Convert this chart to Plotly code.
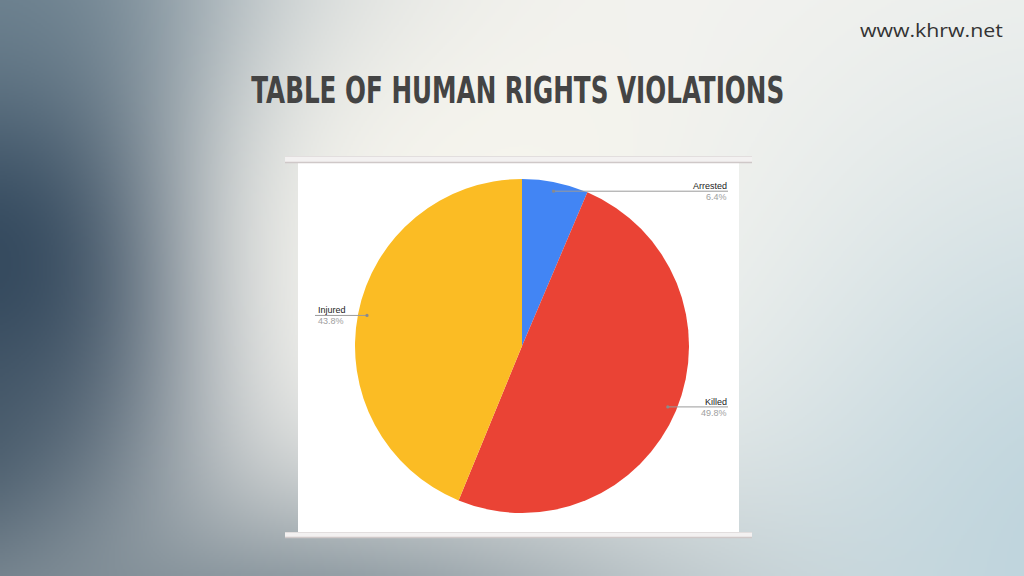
import base64, struct, zlib
import numpy as np
import plotly.graph_objects as go

# ---------------- data ----------------
categories = ["Arrested", "Killed", "Injured"]
values = [6.4, 49.8, 43.8]
pct_labels = ["6.4%", "49.8%", "43.8%"]
colors = ["#4285F4", "#EA4335", "#FBBC24"]
title_text = "TABLE OF HUMAN RIGHTS VIOLATIONS"
site_text = "www.khrw.net"

W, H = 1024, 576

def px(x):
    return x / W

def py(y):
    return 1 - y / H

# ---------------- background gradient image ----------------
def make_bg(w=512, h=288):
    xs = np.linspace(0, W, w)[None, :]
    ys = np.linspace(0, H, h)[:, None]
    img = np.ones((h, w, 3)) * np.array([0xf5, 0xf4, 0xf0], float)
    # colour, cx, cy, sx, sy, strength, x-exponent
    blobs = [
        ("#2b4056", -40, 240, 190, 220, 1.0, 3),
        ("#34495c", -60, 470, 130, 130, 0.8, 2),
        ("#5f7888", -20, -30, 230, 150, 0.7, 2),
        ("#76858f", 260, 660, 360, 120, 1.0, 2),
        ("#bcd3dc", 1100, 560, 260, 300, 0.95, 2),
        ("#f9f7ee", 460, 170, 170, 140, 0.6, 2),
    ]
    for col, cx, cy, sx, sy, s, p in blobs:
        c = np.array([int(col[i:i + 2], 16) for i in (1, 3, 5)], float)
        a = s * np.exp(-((np.abs(xs - cx) / sx) ** p + ((ys - cy) / sy) ** 2) / 2)
        a = a[..., None]
        img = img * (1 - a) + c * a
    arr = np.clip(img, 0, 255).astype(np.uint8)
    raw = b"".join(b"\x00" + arr[r].tobytes() for r in range(h))

    def chunk(t, d):
        return struct.pack(">I", len(d)) + t + d + struct.pack(">I", zlib.crc32(t + d) & 0xffffffff)

    png = (b"\x89PNG\r\n\x1a\n"
           + chunk(b"IHDR", struct.pack(">IIBBBBB", w, h, 8, 2, 0, 0, 0))
           + chunk(b"IDAT", zlib.compress(raw, 9))
           + chunk(b"IEND", b""))
    return "data:image/png;base64," + base64.b64encode(png).decode()

# ---------------- pie geometry (pixels) ----------------
CX, CY, R = 522, 346, 167

fig = go.Figure()
fig.add_trace(go.Pie(
    labels=categories, values=values, sort=False, direction="clockwise",
    rotation=0, marker=dict(colors=colors, line=dict(width=0)),
    textinfo="none", hoverinfo="label+percent", showlegend=False,
    domain=dict(x=[px(CX - R), px(CX + R)], y=[py(CY + R), py(CY - R)]),
))

shapes = []
annotations = []

# panel
shapes.append(dict(type="rect", xref="paper", yref="paper", layer="below",
                   x0=px(298), x1=px(739), y0=py(532), y1=py(161),
                   fillcolor="white", line=dict(width=0)))
for y0, y1 in [(156, 163), (532, 538)]:
    shapes.append(dict(type="rect", xref="paper", yref="paper", layer="below",
                       x0=px(285), x1=px(752), y0=py(y1), y1=py(y0),
                       fillcolor="#f3f1f1", line=dict(width=0)))
    shapes.append(dict(type="line", xref="paper", yref="paper", layer="below",
                       x0=px(285), x1=px(752), y0=py(y1 - 0.5), y1=py(y1 - 0.5),
                       line=dict(color="#cfc8c8", width=1.5)))
    shapes.append(dict(type="line", xref="paper", yref="paper", layer="below",
                       x0=px(285), x1=px(752), y0=py(y0 + 0.5), y1=py(y0 + 0.5),
                       line=dict(color="#e2dede", width=1)))

# leader lines + labels derived from the slice angles
total = sum(values)
cum = 0.0
RIGHT_X, LEFT_X = 728, 315
for name, v, pl in zip(categories, values, pct_labels):
    mid = (cum + v / 2) / total * 2 * np.pi
    cum += v
    dx, dy = np.sin(mid), -np.cos(mid)
    dotx, doty = CX + 0.946 * R * dx, CY + 0.946 * R * dy
    if dx >= 0:
        ex, anchor = RIGHT_X, "right"
    else:
        ex, anchor = LEFT_X, "left"
    shapes.append(dict(type="line", xref="paper", yref="paper",
                       x0=px(dotx), x1=px(ex), y0=py(doty), y1=py(doty),
                       line=dict(color="#9a9a9a", width=1)))
    shapes.append(dict(type="circle", xref="paper", yref="paper",
                       x0=px(dotx - 1.6), x1=px(dotx + 1.6),
                       y0=py(doty + 1.6), y1=py(doty - 1.6),
                       fillcolor="#8a8a8a", line=dict(width=0)))
    annotations.append(dict(text=name, xref="paper", yref="paper",
                            x=px(ex + 1), y=py(doty - 5), xanchor=anchor, yanchor="middle",
                            showarrow=False,
                            font=dict(family="Liberation Sans, Arial", size=9, color="#222222")))
    annotations.append(dict(text=pl, xref="paper", yref="paper",
                            x=px(ex + 1), y=py(doty + 6), xanchor=anchor, yanchor="middle",
                            showarrow=False,
                            font=dict(family="Liberation Sans, Arial", size=9, color="#9e9e9e")))

annotations.append(dict(text="<b>" + title_text + "</b>", xref="paper", yref="paper",
                        x=px(518), y=py(90), xanchor="center", yanchor="middle",
                        showarrow=False,
                        font=dict(family="DejaVu Sans Condensed, Liberation Sans Narrow, Arial Narrow",
                                  size=37, color="#444444")))
annotations.append(dict(text=site_text, xref="paper", yref="paper",
                        x=px(931), y=py(30), xanchor="center", yanchor="middle",
                        showarrow=False,
                        font=dict(family="Open Sans, DejaVu Sans", size=18, color="#333333")))

fig.update_layout(
    width=W, height=H, margin=dict(l=0, r=0, t=0, b=0),
    paper_bgcolor="#f4f3ef", plot_bgcolor="rgba(0,0,0,0)",
    shapes=shapes, annotations=annotations,
    images=[dict(source=make_bg(), xref="paper", yref="paper", x=0, y=1,
                 sizex=1, sizey=1, xanchor="left", yanchor="top",
                 sizing="stretch", layer="below")],
)

post = """
document.body.style.margin = '0';
var gd = document.getElementById('{plot_id}');
function fitText(prefix, width) {
  gd.querySelectorAll('text.annotation-text').forEach(function (t) {
    if (t.textContent.indexOf(prefix) === 0) {
      t.removeAttribute('transform');
      var b = t.getBBox();
      var s = width / b.width;
      var cx = b.x + b.width / 2;
      t.setAttribute('transform', 'translate(' + cx + ',0) scale(' + s + ',1) translate(' + (-cx) + ',0)');
    }
  });
}
fitText('TABLE OF', 533);
fitText('www.', 143);
"""
fig.write_html("out.html", config={"displayModeBar": False}, post_script=post)
